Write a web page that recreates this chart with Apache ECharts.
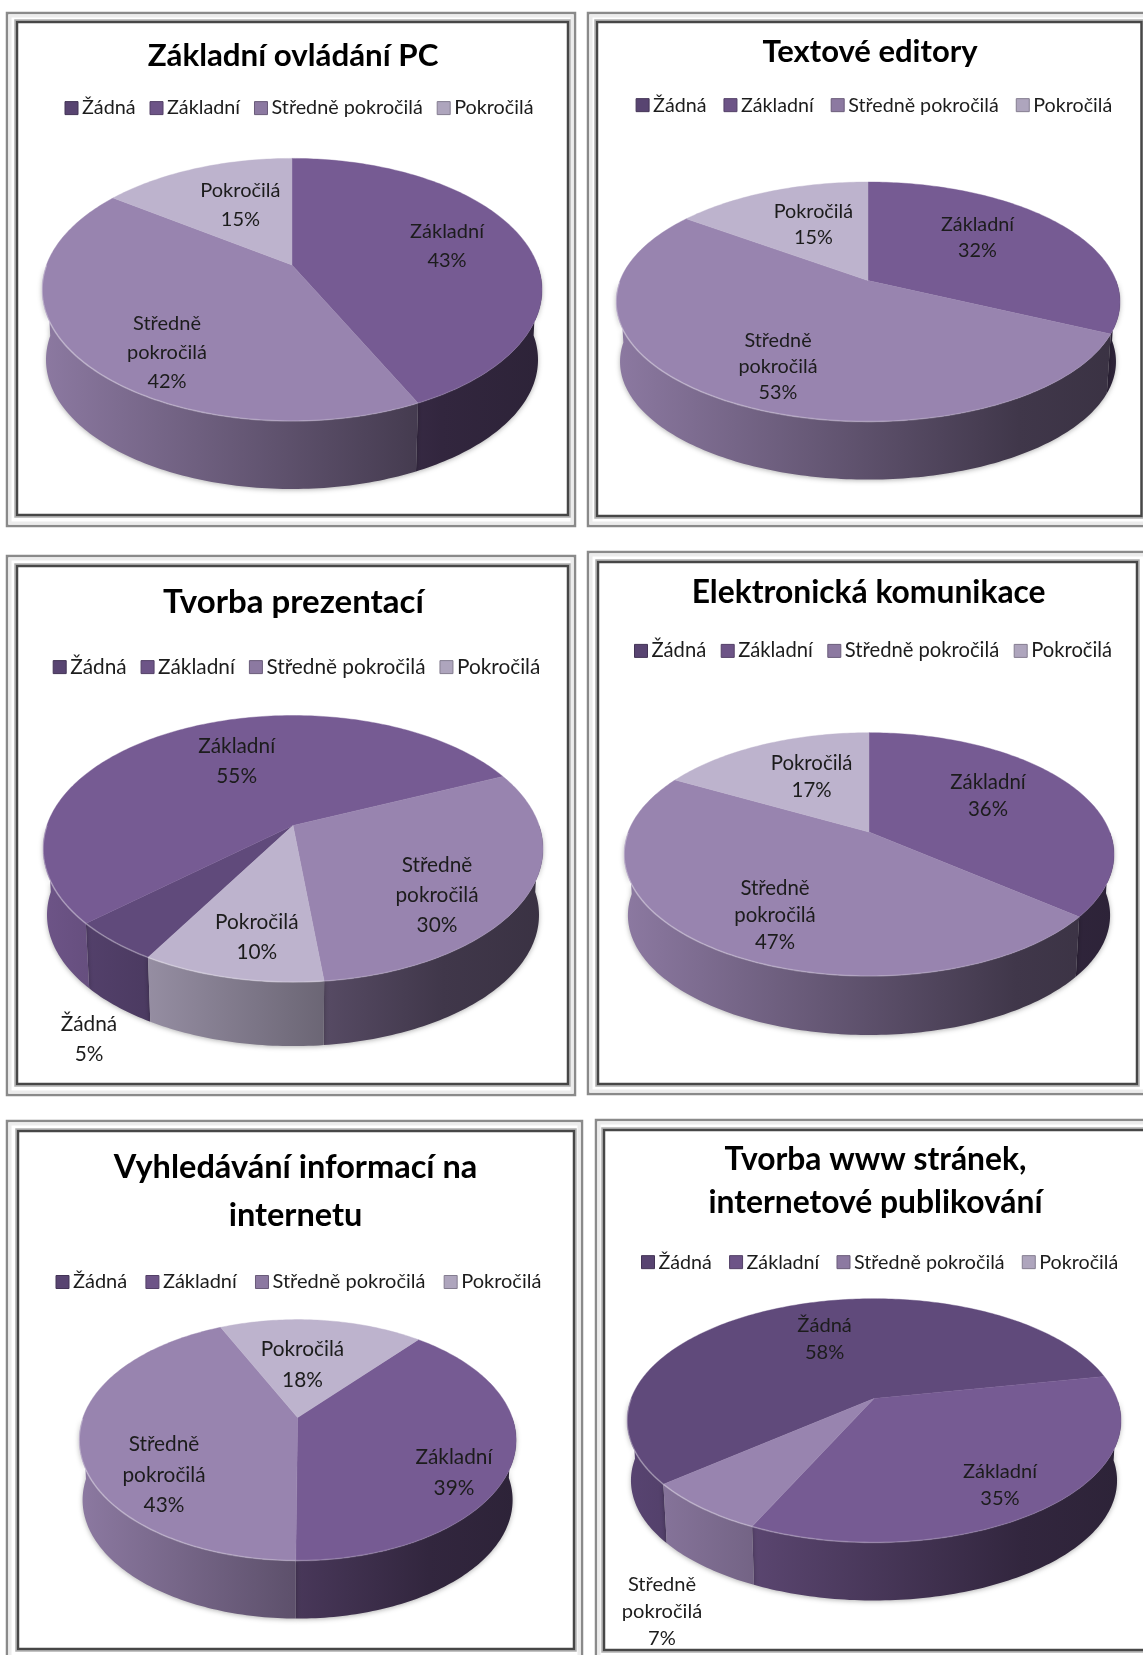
<!DOCTYPE html>
<html><head><meta charset="utf-8">
<style>html,body{margin:0;padding:0;background:#fff;overflow:hidden}#c{width:1143px;height:1655px}</style>
<script src="https://cdn.jsdelivr.net/npm/echarts@6/dist/echarts.min.js"></script>
</head><body><div id="c"></div>
<script>
const levels = ['Žádná', 'Základní', 'Středně pokročilá', 'Pokročilá'];
const chartTitles = ['Základní ovládání PC', 'Textové editory', 'Tvorba prezentací', 'Elektronická komunikace', 'Vyhledávání informací na\ninternetu', 'Tvorba www stránek,\ninternetové publikování'];
const valuesZakladniOvladani = [0, 43, 42, 15];
const valuesTextoveEditory = [0, 32, 53, 15];
const valuesTvorbaPrezentaci = [5, 55, 30, 10];
const valuesElektronickaKomunikace = [0, 36, 47, 17];
const valuesVyhledavani = [0, 39, 43, 18];
const valuesTvorbaWww = [58, 35, 7, 0];
const allValues = [valuesZakladniOvladani, valuesTextoveEditory, valuesTvorbaPrezentaci, valuesElektronickaKomunikace, valuesVyhledavani, valuesTvorbaWww];
const levelColors = ['#604a7b', '#765b93', '#9884af', '#bdb3cd'];
const FONT = 'Lato';

// layout only: frame, pie projection, text placement
// title: [centerX, centerY, fontSize, lineHeight]; legend: [left, centerY, fontSize, itemGap]
const layouts = [
 {outer:[7,13,575,526], inner:[17,22,568,515], apex:[292,265], back:106.6, front:156, halfW:250, depth:68, first:0,
  title:[293,56,31.3,40], legend:[64.5,108,19.8,13.9], lh:29, lab:20, labels:[null,[447,245.7],[167,353],[240.4,205.5]]},
 {outer:[588,13,1150,526], inner:[597,22,1141.5,516], apex:[868,280.6], back:98.6, front:141, halfW:252, depth:58, first:0,
  title:[870,51.7,31,40], legend:[635.6,105,19.7,17], lh:26, lab:19.8, labels:[null,[977.5,237.2],[778,366.5],[813.4,224.7]]},
 {outer:[7,556,575,1095], inner:[17,566,568,1084], apex:[293,825.5], back:110, front:156.6, halfW:250, depth:64, first:210,
  title:[293.4,602.6,33,42], legend:[52.7,667,20.8,14], lh:30, lab:20.8, labels:[[89,1039.6],[236.7,761],[437,895],[256.8,937]]},
 {outer:[588,552,1150,1094], inner:[598,562,1137,1084], apex:[869,832], back:99.3, front:144, halfW:245, depth:59, first:0,
  title:[868.6,593,31.8,40], legend:[634,651,20.2,14.5], lh:27, lab:20.4, labels:[null,[988,795.8],[775,915],[811.6,777.3]]},
 {outer:[7,1121,582,1665], inner:[18,1131,574,1649], apex:[297.6,1417.6], back:98, front:143, halfW:218.5, depth:58, first:40,
  title:[295.5,1191.6,32.5,48.5], legend:[55.5,1282,20,18.2], lh:30.5, lab:20.8, labels:[null,[454,1473],[164,1475],[302.5,1365]]},
 {outer:[596,1120,1150,1665], inner:[604,1130,1150,1650], apex:[874,1398.5], back:99.8, front:144, halfW:247, depth:58, first:230,
  title:[875.5,1181.5,31.8,43], legend:[641,1262,19.7,17.2], lh:27, lab:20.1, labels:[[824.6,1339],[1000,1485],[662,1612],null]}
];
const BOTTOM_SCALE = 0.984;

function shade(hex, f) {
  const n = parseInt(hex.slice(1), 16);
  return 'rgb(' + [(n >> 16) & 255, (n >> 8) & 255, n & 255].map(c => Math.round(c * f)).join(',') + ')';
}
function projector(L) {
  const p = (L.front - L.back) / (L.front + L.back);
  const B = L.back * (1 + p);
  const A = L.halfW * Math.sqrt(1 - p * p);
  return deg => {
    const t = deg * Math.PI / 180, u = Math.sin(t), v = Math.cos(t), w = 1 + p * v;
    return [A * u / w, -B * v / w];
  };
}
function sideFill(L, color) {
  const x0 = L.apex[0] - L.halfW, x1 = L.apex[0] + L.halfW;
  return new echarts.graphic.LinearGradient(x0, 0, x1, 0, [
    {offset: 0, color: shade(color, 0.92)},
    {offset: 0.8, color: shade(color, 0.42)},
    {offset: 1, color: shade(color, 0.38)}
  ], true);
}
function rimStroke(L) {
  const x0 = L.apex[0] - L.halfW, x1 = L.apex[0] + L.halfW;
  return new echarts.graphic.LinearGradient(x0, 0, x1, 0, [
    {offset: 0, color: 'rgba(255,255,255,0.35)'},
    {offset: 0.65, color: 'rgba(255,255,255,0.15)'},
    {offset: 1, color: 'rgba(255,255,255,0)'}
  ], true);
}
function sliceRenderer(L, idx, levelIdx) {
  const proj = projector(L), color = levelColors[levelIdx];
  return function (params, api) {
    const a = api.value(0), b = api.value(1), val = api.value(2);
    if (!(val > 0)) return {type: 'group', children: []};
    const angs = [];
    for (let d = a; d < b; d += 1) angs.push(d);
    angs.push(b);
    const [ax, ay] = L.apex;
    const topPts = [[ax, ay]].concat(angs.map(d => { const q = proj(d); return [ax + q[0], ay + q[1]]; }));
    const children = [];
    const front = angs.filter(d => { const m = ((d % 360) + 360) % 360; return m >= 90 && m <= 270; });
    if (front.length > 1) {
      const drop = L.depth + L.front * (1 - BOTTOM_SCALE);
      const upper = front.map(d => { const q = proj(d); return [ax + q[0], ay + q[1]]; });
      const lower = front.map(d => { const q = proj(d); return [ax + q[0] * BOTTOM_SCALE, ay + q[1] * BOTTOM_SCALE + drop]; }).reverse();
      children.push({type: 'polygon', z2: 1, shape: {points: upper.concat(lower)},
        style: {fill: sideFill(L, color), shadowBlur: 5, shadowColor: 'rgba(0,0,0,0.3)', shadowOffsetY: 1}});
      children.push({type: 'polyline', z2: 12, shape: {points: upper},
        style: {fill: null, stroke: rimStroke(L), lineWidth: 1.6}});
    }
    children.push({type: 'polygon', z2: 10, shape: {points: topPts},
      style: {fill: color, stroke: color, lineWidth: 0.4}});
    const at = L.labels[levelIdx];
    if (at) {
      children.push({type: 'text', z2: 20, style: {
        text: levels[levelIdx].replace(' ', '\n') + '\n' + val + '%',
        x: at[0], y: at[1], align: 'center', verticalAlign: 'middle',
        fontFamily: FONT, fontSize: L.lab, lineHeight: L.lh, fill: '#1c1c1c'}});
    }
    return {type: 'group', children};
  };
}

const series = [], titles = [], legends = [], frameEls = [];
layouts.forEach((L, i) => {
  let cum = L.first;
  allValues[i].forEach((v, k) => {
    const end = cum + v * 3.6;
    series.push({
      type: 'custom', name: levels[k], coordinateSystem: 'none', silent: true,
      itemStyle: {color: levelColors[k]},
      data: [[cum, end, v]], renderItem: sliceRenderer(L, i, k), animation: false
    });
    cum = end;
  });
  const nLines = chartTitles[i].split('\n').length;
  titles.push({text: chartTitles[i], left: L.title[0], top: L.title[1] - L.title[3] * nLines / 2, textAlign: 'center', padding: 0,
    textStyle: {fontFamily: FONT, fontWeight: 'bold', fontSize: L.title[2], color: '#000', lineHeight: L.title[3]}});
  legends.push({left: L.legend[0], top: L.legend[1] - L.legend[2] / 2, padding: 0, orient: 'horizontal', icon: 'rect', itemWidth: 13, itemHeight: 13,
    itemGap: L.legend[3], selectedMode: false,
    textStyle: {fontFamily: FONT, fontSize: L.legend[2], color: '#1c1c1c', padding: [0, 0, 0, -1]},
    data: levels.map((n, k) => ({name: n, itemStyle: {color: shade(levelColors[k], 0.92), borderColor: shade(levelColors[k], 0.7), borderWidth: 1}}))});
  const rect = (r, stroke, w, z) => ({type: 'rect', z, silent: true,
    shape: {x: r[0], y: r[1], width: r[2] - r[0], height: r[3] - r[1]},
    style: {fill: null, stroke, lineWidth: w}});
  frameEls.push(rect(L.outer, '#8a8a8a', 2.5, -5));
  const o = L.outer, n = L.inner;
  frameEls.push(rect([o[0] + 3, o[1] + 3, o[2] - 3, o[3] - 3], '#ececec', 3, -5));
  frameEls.push(rect([n[0] - 2, n[1] - 2, n[2] + 2, n[3] + 2], '#b0b0b0', 1.5, -5));
  frameEls.push(rect(n, '#474747', 2.5, -5));
});

const chart = echarts.init(document.getElementById('c'), null, {renderer: 'canvas'});
chart.setOption({
  animation: false, backgroundColor: '#ffffff',
  title: titles, legend: legends, series, graphic: {elements: frameEls}
});
</script></body></html>
